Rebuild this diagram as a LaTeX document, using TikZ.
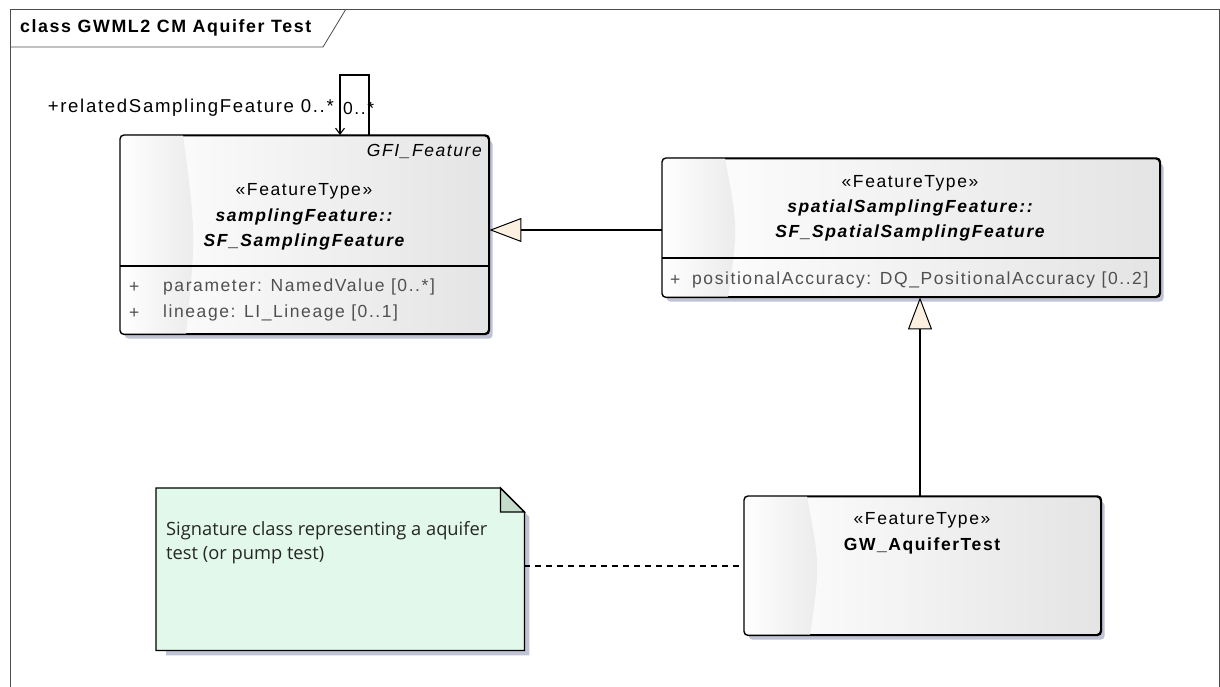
\documentclass[tikz,border=0pt]{standalone}
\usepackage{fontspec}
\setmainfont{Liberation Sans}[LetterSpace=9]
\newfontfamily\notefont{Open Sans}
\usetikzlibrary{arrows.meta,calc,shadows}
\definecolor{shadowc}{HTML}{BFC3D3}
\definecolor{boxgray}{HTML}{E4E4E4}
\definecolor{notefill}{HTML}{E2F8EA}
\definecolor{foldfill}{HTML}{C5DCCB}
\definecolor{cream}{HTML}{FCF0E0}
\definecolor{txtgray}{HTML}{505050}
\tikzset{
  umlbox/.style={draw=black, line width=1.4pt, rounded corners=4pt, left color=white, right color=boxgray,
    drop shadow={shadow xshift=4pt, shadow yshift=-5pt, fill=shadowc, opacity=1}, anchor=north west, inner sep=0pt},
  lbl/.style={inner sep=0pt, font=\fontsize{17.5}{20}\selectfont},
  namefont/.style={font=\bfseries\itshape\fontsize{17.5}{20}\selectfont},
  attr/.style={inner sep=0pt, font=\fontsize{17.5}{20}\selectfont, text=txtgray, anchor=west},
  conn/.style={line width=1.2pt},
  gen/.style={conn, -{Triangle[length=32pt,width=24pt,fill=cream,line width=1pt]}},
}
\newcommand\boxhl[1]{%
  \begin{scope}
    \clip[rounded corners=4pt] (#1.north west) rectangle (#1.south east);
    \shade[left color=white, right color=boxgray!75] (#1.north west) -- ($(#1.north west)+(63,0)$)
      .. controls ($(#1.north west)!.5!(#1.south west)+(76,0)$) .. ($(#1.south west)+(66,0)$) -- (#1.south west) -- cycle;
  \end{scope}
  \draw[line width=1.4pt, rounded corners=4pt] (#1.north west) rectangle (#1.south east);}
\begin{document}
\begin{tikzpicture}[x=1pt,y=-1pt]
\useasboundingbox (0,0) rectangle (1220,687);
% frame
\draw[line width=0.8pt, black!70] (10,9) rectangle (1219,690);
\draw[line width=0.8pt, black!70] (10,47) -- (323,47) -- (346,9);
\node[inner sep=0pt, anchor=west, font=\bfseries\fontsize{17.8}{20}\selectfont] (title) at (20,28) {class GWML2 CM Aquifer Test};

% SF_SamplingFeature
\node[umlbox, minimum width=368pt, minimum height=198pt] (sf) at (120,135) {};
\boxhl{sf}
\draw[line width=1.4pt] (120,266) -- (488,266);
\node[lbl, font=\itshape\fontsize{17.5}{20}\selectfont, anchor=east] (sfgfi) at (482,151) {GFI\_Feature};
\node[lbl] (sfst) at (304,191) {«FeatureType»};
\node[lbl, namefont] (sfn1) at (304,217) {samplingFeature::};
\node[lbl, namefont] (sfn2) at (304,242) {SF\_SamplingFeature};
\node[attr] (sfp1) at (129,287) {+};
\node[attr] (sfa1) at (163,287) {parameter: NamedValue [0..*]};
\node[attr] (sfp2) at (129,313) {+};
\node[attr] (sfa2) at (163,313) {lineage: LI\_Lineage [0..1]};

% SF_SpatialSamplingFeature
\node[umlbox, minimum width=497pt, minimum height=138pt] (ss) at (662,158) {};
\boxhl{ss}
\draw[line width=1.4pt] (662,258) -- (1159,258);
\node[lbl] (ssst) at (910,183) {«FeatureType»};
\node[lbl, namefont] (ssn1) at (910,208) {spatialSamplingFeature::};
\node[lbl, namefont] (ssn2) at (910,233) {SF\_SpatialSamplingFeature};
\node[attr] (ssp1) at (670,280) {+};
\node[attr] (ssa1) at (692,280) {positionalAccuracy: DQ\_PositionalAccuracy [0..2]};

% GW_AquiferTest
\node[umlbox, minimum width=356pt, minimum height=138pt] (gw) at (744,496) {};
\boxhl{gw}
\node[lbl] (gwst) at (922,520) {«FeatureType»};
\node[lbl, font=\bfseries\fontsize{17.5}{20}\selectfont] (gwn) at (922,546) {GW\_AquiferTest};

% note
\node[inner sep=0pt, minimum width=368pt, minimum height=162pt, anchor=north west] (note) at (156,488) {};
\fill[shadowc] ($(note.north east)+(5,29)$) -- ($(note.south east)+(5,5)$) -- ($(note.south west)+(10,5)$) -- ($(note.south west)+(10,0)$) -- ($(note.south east)+(0,0)$) -- ($(note.north east)+(0,24)$) -- cycle;
\draw[line width=1.3pt, fill=notefill] (note.north west) -- ($(note.north east)+(-24,0)$) -- ($(note.north east)+(0,24)$) -- (note.south east) -- (note.south west) -- cycle;
\draw[line width=1.3pt, fill=foldfill] ($(note.north east)+(-24,0)$) -- ($(note.north east)+(-24,24)$) -- ($(note.north east)+(0,24)$) -- cycle;
\node[inner sep=0pt, anchor=west, font=\notefont\fontsize{18.3}{20}\selectfont, text=black!85] (nt1) at (166,531) {Signature class representing a aquifer};
\node[inner sep=0pt, anchor=west, font=\notefont\fontsize{18.3}{20}\selectfont, text=black!85] (nt2) at (166,555) {test (or pump test)};

% connectors
\coordinate (hy) at (0,230);
\draw[gen] (ss.west |- hy) -- (sf.east |- hy);
\coordinate (vx) at (920,0);
\draw[gen] (gw.north -| vx) -- (ss.south -| vx);
\coordinate (dy) at (0,566);
\draw[line width=1.2pt, dash pattern=on 6pt off 5pt] (note.east |- dy) -- (gw.west |- dy);
% self association
\coordinate (loopR) at (369,75);
\coordinate (loopL) at (340,75);
\draw[conn, -{Straight Barb[length=6pt,width=9pt,line width=1.1pt]}] (sf.north -| loopR) -- (loopR) -- (loopL) -- (sf.north -| loopL);
\node[lbl, anchor=east, font=\fontsize{18.6}{20}\selectfont] (rel) at (334,108) {+relatedSamplingFeature 0..*};
\node[lbl, anchor=west] (relm) at (343,108) {0..*};
\end{tikzpicture}
\end{document}
